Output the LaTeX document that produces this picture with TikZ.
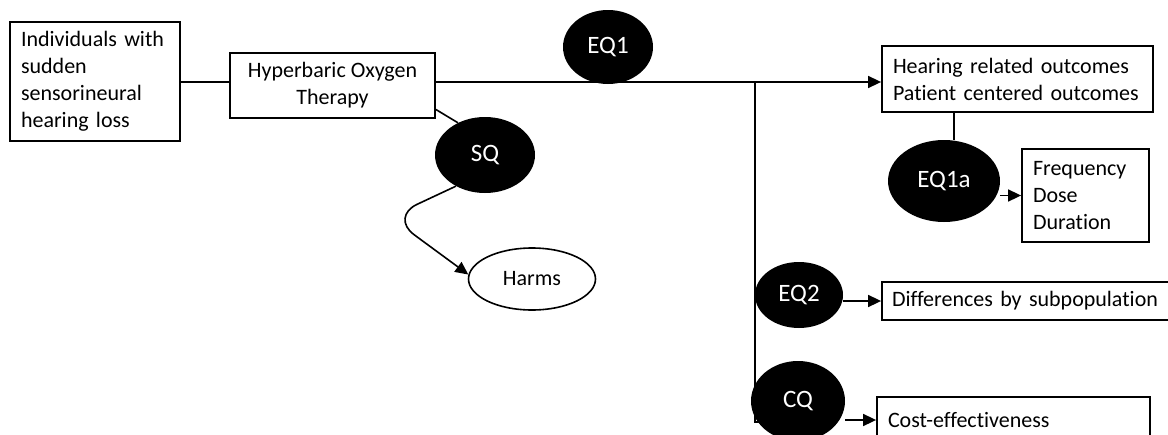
\documentclass[tikz,border=0pt]{standalone}
\usepackage{fontspec}
\setmainfont{Carlito}[Ligatures=NoCommon]
\usetikzlibrary{shapes.geometric,arrows.meta}

\begin{document}
\begin{tikzpicture}[x=1pt,y=-1pt,
		every node/.style={font=\fontsize{22}{27}\selectfont},
		box/.style={draw,line width=1.8pt,inner sep=0pt},
		question/.style={ellipse,fill=black,text=white,inner sep=0pt,font=\fontsize{25}{30}\selectfont},
		line/.style={line width=1.6pt},
		arrow/.style={line,-{Triangle[length=13pt,width=12pt]}}]
	\useasboundingbox (0,0) rectangle (1168,434);
	\clip (0,0) rectangle (1168,434);
	% boxes
	\node[box,minimum width=170pt,minimum height=119pt,text width=148pt,align=left] (pop) at (95,81.5) {Individuals with\\sudden\\sensorineural\\hearing loss};
	\node[box,minimum width=205pt,minimum height=65pt,align=center] (hbot) at (332.5,85.5) {Hyperbaric Oxygen\\Therapy};
	\node[box,minimum width=271pt,minimum height=66pt,text width=249pt,align=left] (out) at (1017.5,79) {Hearing related outcomes\\Patient centered outcomes};
	\node[box,minimum width=127pt,minimum height=93pt,text width=105pt,align=left] (fdd) at (1085.5,195.5) {Frequency\\Dose\\Duration};
	\node[box,minimum width=293pt,minimum height=38pt,text width=273pt,align=left] (diff) at (1028.5,301) {Differences by subpopulation};
	\node[box,minimum width=273pt,minimum height=46pt,text width=251pt,align=left] (cost) at (1013.5,420) {Cost-effectiveness};
	\node[ellipse,draw,line width=1.6pt,fill=white,minimum width=127pt,minimum height=62pt] (harms) at (532,279) {Harms};
	\node[question,minimum width=100pt,minimum height=76pt] (sq) at (485,155) {SQ};
	\node[question,minimum width=112pt,minimum height=82pt] (eq1a) at (944,181) {EQ1a};
	% main line
	\coordinate (split) at (755,82);
	\coordinate (foot) at (755,422);
	\coordinate (turn) at (390,217);
	\draw[line] (pop.east |- split) -- (split -| hbot.west);
	\draw[line] (hbot.east |- split) -- (split);
	\draw[arrow] (split) -- (split -| out.west);
	\draw[line] (split) -- (foot) -- ++(6,0);
	% questions on the lines
	\node[question,minimum width=90pt,minimum height=74pt] (eq1) at (608,47) {EQ1};
	\node[question,minimum width=88pt,minimum height=66pt] (eq2) at (799,295) {EQ2};
	\node[question,minimum width=94pt,minimum height=80pt] (cq) at (798,401) {CQ};
	% connectors
	\draw[line] ([xshift=10pt]eq1a.north |- out.south) -- ([xshift=10pt]eq1a.north);
	\draw[arrow] (eq1a.east |- fdd.west) -- (fdd.west);
	\draw[arrow] (eq2.east |- diff.west) -- (diff.west);
	\draw[arrow] (cq.east |- cost.west) -- (cost.west);
	\draw[line] ([yshift=-24pt]hbot.east) -- (sq.130);
	\draw[arrow,rounded corners=30pt] (sq.227) -- (turn) -- (harms.176);
\end{tikzpicture}
\end{document}
